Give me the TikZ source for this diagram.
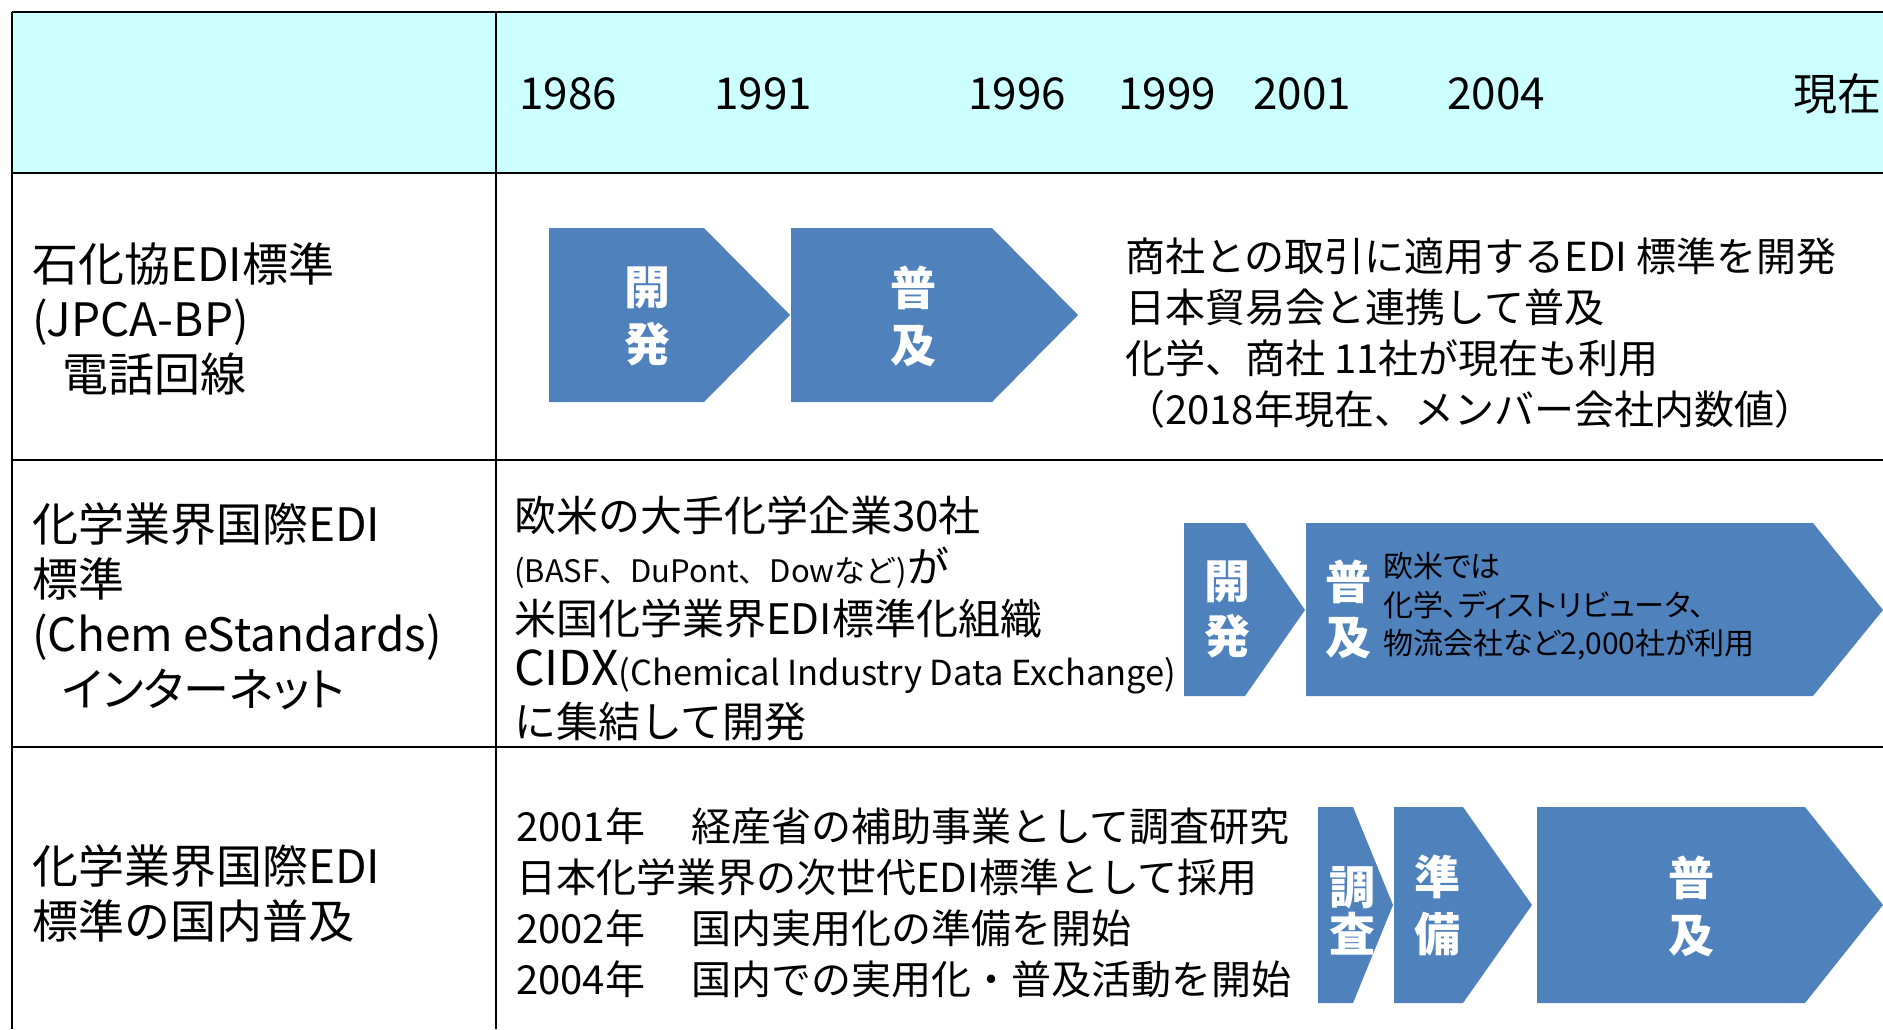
\documentclass[tikz,border=0pt]{standalone}
\usepackage{fontspec}
\setmainfont{Noto Sans CJK JP}
\newfontfamily\paltfont{Noto Sans CJK JP}[RawFeature=+palt]
\definecolor{hdr}{RGB}{204,255,255}
\definecolor{chevblue}{RGB}{79,129,189}
\tikzset{
  gridline/.style={line width=2.6pt, black},
  chev/.style={fill=chevblue},
  yeartxt/.style={inner sep=0, font=\fontsize{44}{52}\selectfont},
  lbl/.style={anchor=west, align=left, inner sep=0, font=\fontsize{46}{55}\selectfont},
  bodytxt/.style={anchor=west, align=left, inner sep=0, font=\fontsize{40}{51}\selectfont},
  midtxt/.style={anchor=west, align=left, inner sep=0, font=\fontsize{42}{51.5}\selectfont},
  wtxt/.style={align=center, inner sep=0, text=white, font=\bfseries\fontsize{46}{57}\selectfont},
}
\begin{document}
\begin{tikzpicture}[x=1pt,y=-1pt]
\useasboundingbox (0,0) rectangle (1883,1029);
% header fill
\fill[hdr] (12,12) rectangle (1883,173);
% grid
\draw[gridline] (12,12) -- (1883,12);
\draw[gridline] (12,173) -- (1883,173);
\draw[gridline] (12,460) -- (1883,460);
\draw[gridline] (12,747) -- (1883,747);
\draw[gridline] (12,12) -- (12,1029);
\draw[gridline] (496,12) -- (496,1029);

% years
\node[yeartxt] (y1986) at (568,94) {1986};
\node[yeartxt] (y1991) at (763,94) {1991};
\node[yeartxt] (y1996) at (1017,94) {1996};
\node[yeartxt] (y1999) at (1167,94) {1999};
\node[yeartxt] (y2001) at (1302,94) {2001};
\node[yeartxt] (y2004) at (1496,94) {2004};
\node[yeartxt] (ynow) at (1837,94) {現在};

% row labels
\node[lbl] (lab1) at (32,318.5) {石化協EDI標準\\(JPCA-BP)\\\hspace*{30pt}電話回線};
\node[lbl] (lab2) at (32,606) {化学業界国際EDI\\標準\\(Chem eStandards)\\\hspace*{30pt}{\paltfont インターネット}};
\node[lbl] (lab3) at (32,893) {化学業界国際EDI\\標準の国内普及};

% row 1 arrows
\fill[chev] (549,228) -- (704,228) -- (790,315) -- (704,402) -- (549,402) -- cycle;
\fill[chev] (791,228) -- (992,228) -- (1078,315) -- (992,402) -- (791,402) -- cycle;
\node[wtxt] (r1dev) at (647,316.5) {開\\発};
\node[wtxt] (r1pop) at (913,316.5) {普\\及};
\node[bodytxt] (r1txt) at (1125,333) {商社との取引に適用するEDI 標準を開発\\日本貿易会と連携して普及\\化学、商社 11社が現在も利用\\（2018年現在、メンバー会社内数値）};

% row 2
\node[midtxt] (r2txt) at (514,618.5) {欧米の大手化学企業30社\\{\fontsize{31}{38}\selectfont(BASF、DuPont、Dowなど)}が\\米国化学業界EDI標準化組織\\{\fontsize{48}{51.5}\selectfont CIDX}{\fontsize{34.5}{44}\selectfont(Chemical Industry Data Exchange)}\\に集結して開発};
\fill[chev] (1184,523) -- (1245,523) -- (1305,610) -- (1245,696) -- (1184,696) -- cycle;
\fill[chev] (1306,523) -- (1813,523) -- (1883,610) -- (1813,696) -- (1306,696) -- cycle;
\node[wtxt] (r2dev) at (1227,609.5) {開\\[-2pt]発};
\node[wtxt] (r2pop) at (1348,609.5) {普\\[-2pt]及};
\node[anchor=west, align=left, inner sep=0, font=\paltfont\fontsize{30}{38.5}\selectfont] (r2in) at (1383,606.5) {欧米では\\化学、ディストリビュータ、\\物流会社など2,000社が利用};

% row 3
\node[bodytxt] (r3txt) at (516,902.5) {2001年\hspace{46pt}経産省の補助事業として調査研究\\日本化学業界の次世代EDI標準として採用\\2002年\hspace{46pt}国内実用化の準備を開始\\2004年\hspace{46pt}国内での実用化・普及活動を開始};
\fill[chev] (1318,807) -- (1353,807) -- (1393,905) -- (1353,1003) -- (1318,1003) -- cycle;
\fill[chev] (1394,807) -- (1463,807) -- (1532,905) -- (1463,1003) -- (1394,1003) -- cycle;
\fill[chev] (1537,807) -- (1805,807) -- (1883,905) -- (1805,1003) -- (1537,1003) -- cycle;
\node[wtxt, font=\bfseries\fontsize{46}{47}\selectfont] (r3inv) at (1352,910.5) {調\\査};
\node[wtxt] (r3prep) at (1437,906) {準\\備};
\node[wtxt] (r3pop) at (1691,906) {普\\及};
\end{tikzpicture}
\end{document}
